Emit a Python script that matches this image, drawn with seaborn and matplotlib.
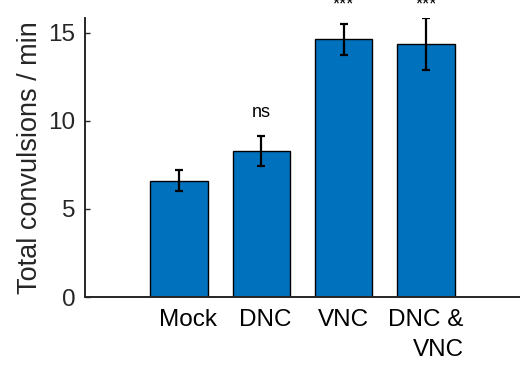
import matplotlib
matplotlib.use("Agg")
import matplotlib.pyplot as plt
import matplotlib.transforms as mtransforms
import seaborn as sns
import pandas as pd

categories = ["Mock", "DNC", "VNC", "DNC &\nVNC"]
means = [6.6, 8.3, 14.64, 14.36]
errors = [0.6, 0.85, 0.88, 1.48]
signif = ["", "ns", "***", "***"]
signif_y = [None, 10.24, 16.33, 16.33]

sns.set_style("ticks")
plt.rcParams["font.family"] = ["Liberation Sans", "DejaVu Sans"]

df = pd.DataFrame({"group": categories, "value": means})

fig = plt.figure(figsize=(5.2, 3.68), dpi=100)
ax = fig.add_axes([85 / 520, 71 / 368, 448 / 520, 279 / 368])

sns.barplot(data=df, x="group", y="value", order=categories, color="#0072BD",
            saturation=1, width=0.7, edgecolor="black", linewidth=1.0,
            errorbar=None, ax=ax)
ax.errorbar(range(len(categories)), means, yerr=errors, fmt="none",
            ecolor="black", elinewidth=1.6, capsize=3.2, capthick=1.6, zorder=5)

for i, (s, y) in enumerate(zip(signif, signif_y)):
    if s:
        ax.text(i, y, s, ha="center", va="baseline", fontsize=13,
                color="black", clip_on=False)

ax.set_xlim(-1.142, 4.3)
ax.set_ylim(0, 15.85)
ax.set_yticks([0, 5, 10, 15])
ax.set_xlabel("")
ax.set_ylabel("Total convulsions / min", fontsize=19.5, labelpad=4, color="#262626")

for side in ["top", "right"]:
    ax.spines[side].set_visible(False)
for side in ["left", "bottom"]:
    ax.spines[side].set_linewidth(1.4)
    ax.spines[side].set_color("#262626")

ax.tick_params(axis="both", direction="in", length=3.6, width=1.0,
               colors="#262626", labelsize=17.5, pad=7, labelcolor="#262626")
ax.tick_params(axis="x", labelcolor="black", pad=9)

labels = ax.get_xticklabels()
offsets_px = [9, 4, 0, 0]
for lab, off in zip(labels, offsets_px):
    lab.set_multialignment("right")
    lab.set_linespacing(1.45)
    if off:
        lab.set_transform(lab.get_transform() +
                          mtransforms.ScaledTranslation(off / 100, 0, fig.dpi_scale_trans))

fig.savefig("out.png", dpi=100)
